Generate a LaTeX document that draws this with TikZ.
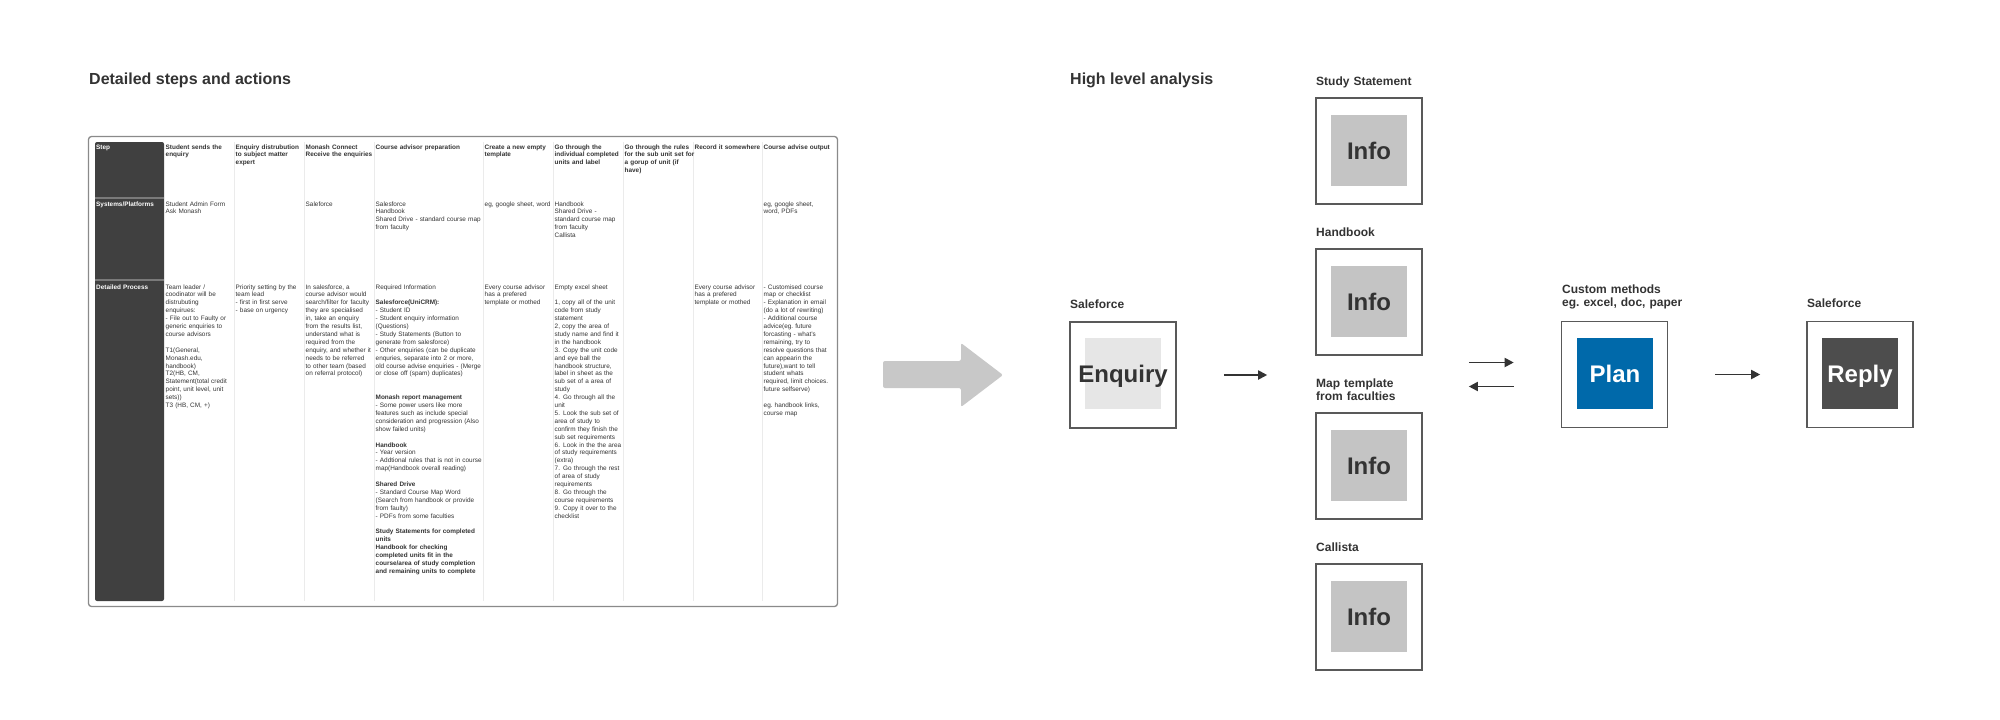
\documentclass[tikz,border=0pt]{standalone}
\usepackage{fontspec}
\setmainfont{Liberation Sans}
\usetikzlibrary{arrows.meta}
\definecolor{ink}{HTML}{333333}
\definecolor{boxline}{HTML}{595959}
\definecolor{infofill}{HTML}{C4C4C4}
\definecolor{enqfill}{HTML}{E6E6E6}
\definecolor{planfill}{HTML}{0069AA}
\definecolor{replyfill}{HTML}{4D4D4D}
\definecolor{sidefill}{HTML}{404040}
\definecolor{sidesep}{HTML}{7A7A7A}
\definecolor{colrule}{HTML}{EBEBEB}
\definecolor{tblframe}{HTML}{8A8A8A}
\definecolor{bigarrow}{HTML}{C8C8C8}

\begin{document}
\begin{tikzpicture}[x=1pt,y=-1pt,
	ttl/.style={anchor=base west,inner sep=0pt,text=ink,font=\fontsize{16}{19}\selectfont\bfseries},
	lbl/.style={anchor=base west,inner sep=0pt,text=ink,text width=160pt,align=left,font=\fontsize{12}{13.3}\selectfont\bfseries},
	cell/.style={anchor=base west,inner sep=0pt,text=ink,text width=110pt,align=left,font=\fontsize{6.4}{7.9}\selectfont},
	hcell/.style={cell,font=\fontsize{6.4}{7.9}\selectfont\bfseries},
	scell/.style={hcell,text=white},
	box/.style={draw=boxline,line width=1.6pt,minimum size=106pt,inner sep=0pt},
	card/.style={minimum width=76pt,minimum height=71pt,inner sep=0pt,text height=17pt,text depth=0pt,font=\fontsize{24}{24}\selectfont\bfseries},
	arr/.style={draw=ink,line width=1.8pt,-{Triangle[length=9pt,width=9pt]}}]
			\useasboundingbox (0,0) rectangle (2000,720);
			\node[ttl] (ttlSteps) at (89,84) {Detailed steps and actions};
			\node[ttl] (ttlHigh) at (1070,84) {High level analysis};

			\draw[tblframe,line width=1.3pt,rounded corners=3pt] (88.5,136.5) rectangle (837.5,606.5);
			\fill[sidefill,rounded corners=2pt] (95,142) rectangle (164,601);
			\draw[sidesep,line width=1.5pt] (95,198) -- (164,198) (95,280) -- (164,280);
			\draw[colrule,line width=0.8pt] (234,142) -- (234,601) (304,142) -- (304,601) (374,142) -- (374,601) (483,142) -- (483,601)
				(553,142) -- (553,601) (623,142) -- (623,601) (693,142) -- (693,601) (762,142) -- (762,601);

			\node[scell] (hd0) at (96,149) {Step};
			\node[scell] (sy0) at (96,206) {Systems/Platforms};
			\node[scell] (pr0) at (96,289) {Detailed Process};

			\node[hcell] (hd1) at (165.5,149) {Student sends the\\enquiry};
			\node[hcell] (hd2) at (235.5,149) {Enquiry distrubution\\to subject matter\\expert};
			\node[hcell] (hd3) at (305.5,149) {Monash Connect\\Receive the enquiries};
			\node[hcell] (hd4) at (375.5,149) {Course advisor preparation};
			\node[hcell] (hd5) at (484.5,149) {Create a new empty\\template};
			\node[hcell] (hd6) at (554.5,149) {Go through the\\individual completed\\units and label};
			\node[hcell] (hd7) at (624.5,149) {Go through the rules\\for the sub unit set for\\a gorup of unit (if\\have)};
			\node[hcell] (hd8) at (694.5,149) {Record it somewhere};
			\node[hcell] (hd9) at (763.5,149) {Course advise output};

			\node[cell] (sy1) at (165.5,206) {Student Admin Form\\Ask Monash};
			\node[cell] (sy3) at (305.5,206) {Saleforce};
			\node[cell] (sy4) at (375.5,206) {Salesforce\\Handbook\\Shared Drive - standard course map\\from faculty};
			\node[cell] (sy5) at (484.5,206) {eg, google sheet, word};
			\node[cell] (sy6) at (554.5,206) {Handbook\\Shared Drive -\\standard course map\\from faculty\\Callista};
			\node[cell] (sy9) at (763.5,206) {eg, google sheet,\\word, PDFs};

			\node[cell] (pr1) at (165.5,289) {Team leader /\\coodinator will be\\distrubuting\\enquirues:\\- File out to Faulty or\\generic enquiries to\\course advisors\\[7.9pt]T1(General,\\Monash.edu,\\handbook)\\T2(HB, CM,\\Statement(total credit\\point, unit level, unit\\sets))\\T3 (HB, CM, +)};
			\node[cell] (pr2) at (235.5,289) {Priority setting by the\\team lead\\- first in first serve\\- base on urgency};
			\node[cell] (pr3) at (305.5,289) {In salesforce, a\\course advisor would\\search/filter for faculty\\they are specialised\\in, take an enquiry\\from the results list,\\understand what is\\required from the\\enquiry, and whether it\\needs to be referred\\to other team (based\\on referral protocol)};
			\node[cell] (pr4) at (375.5,289) {Required Information\\[7.9pt]\textbf{Salesforce(UniCRM):}\\- Student ID\\- Student enquiry information\\(Questions)\\- Study Statements (Button to\\generate from salesforce)\\- Other enquiries (can be duplicate\\enquries, separate into 2 or more,\\old course advise enquiries - (Merge\\or close off (spam) duplicates)\\[15.8pt]\textbf{Monash report management}\\- Some power users like more\\features such as include special\\consideration and progression (Also\\show failed units)\\[7.9pt]\textbf{Handbook}\\- Year version\\- Addtional rules that is not in course\\map(Handbook overall reading)\\[7.9pt]\textbf{Shared Drive}\\- Standard Course Map Word\\(Search from handbook or provide\\from faulty)\\- PDFs from some faculties\\[7.9pt]\textbf{Study Statements for completed}\\\textbf{units}\\\textbf{Handbook for checking}\\\textbf{completed units fit in the}\\\textbf{course/area of study completion}\\\textbf{and remaining units to complete}};
			\node[cell] (pr5) at (484.5,289) {Every course advisor\\has a prefered\\template or mothed};
			\node[cell] (pr6) at (554.5,289) {Empty excel sheet\\[7.9pt]1, copy all of the unit\\code from study\\statement\\2, copy the area of\\study name and find it\\in the handbook\\3. Copy the unit code\\and eye ball the\\handbook structure,\\label in sheet as the\\sub set of a area of\\study\\4. Go through all the\\unit\\5. Look the sub set of\\area of study to\\confirm they finish the\\sub set requirements\\6. Look in the the area\\of study requirements\\(extra)\\7. Go through the rest\\of area of study\\requirements\\8. Go through the\\course requirements\\9. Copy it over to the\\checklist};
			\node[cell] (pr8) at (694.5,289) {Every course advisor\\has a prefered\\template or mothed};
			\node[cell] (pr9) at (763.5,289) {- Customised course\\map or checklist\\- Explanation in email\\(do a lot of rewriting)\\- Additional course\\advice(eg.\ future\\forcasting - what's\\remaining, try to\\resolve questions that\\can appearin the\\future),want to tell\\student whats\\required, limit choices.\\future selfserve)\\[7.9pt]eg.\ handbook links,\\course map};

			\fill[bigarrow,rounded corners=2pt] (883,361) -- (961,361) -- (961,343) -- (1003,375) -- (961,407) -- (961,388) -- (883,388) -- cycle;

			\node[lbl] (enqLbl) at (1070,308) {Saleforce};
			\node[box] (enqBox) at (1123,375) {};
			\node[card,fill=enqfill,text=ink] (enqCard) at (1123,373.5) {\makebox[0pt]{Enquiry}};

			\node[lbl] (ssLbl) at (1316,85) {Study Statement};
			\node[box] (ssBox) at (1369,151) {};
			\node[card,fill=infofill,text=ink] (ssCard) at (1369,150.5) {Info};
			\node[lbl] (hbLbl) at (1316,236) {Handbook};
			\node[box] (hbBox) at (1369,302) {};
			\node[card,fill=infofill,text=ink] (hbCard) at (1369,301.5) {Info};
			\node[lbl] (mapLbl) at (1316,387) {Map template\\from faculties};
			\node[box] (mapBox) at (1369,466) {};
			\node[card,fill=infofill,text=ink] (mapCard) at (1369,465.5) {Info};
			\node[lbl] (caLbl) at (1316,551) {Callista};
			\node[box] (caBox) at (1369,617) {};
			\node[card,fill=infofill,text=ink] (caCard) at (1369,616.5) {Info};

			\node[lbl] (planLbl) at (1562,293) {Custom methods\\eg.\ excel, doc, paper};
			\node[box] (planBox) at (1614.5,374.5) {};
			\node[card,fill=planfill,text=white] (planCard) at (1615,373.5) {Plan};
			\node[lbl] (replyLbl) at (1807,307) {Saleforce};
			\node[box] (replyBox) at (1860,374.5) {};
			\node[card,fill=replyfill,text=white] (replyCard) at (1860,373.5) {Reply};

			\coordinate (toPlan) at ([yshift=12pt]planBox.west);
			\coordinate (fromPlan) at ([yshift=-12pt]planBox.west);
			\draw[arr,shorten <=47pt,shorten >=48pt] (enqBox.east) -- (enqBox.east -| ssBox.west);
			\draw[arr,shorten <=46pt,shorten >=47pt] (toPlan -| ssBox.east) -- (toPlan);
			\draw[arr,shorten <=47pt,shorten >=46pt] (fromPlan) -- (fromPlan -| ssBox.east);
			\draw[arr,shorten <=47pt,shorten >=46pt] (planBox.east) -- (replyBox.west);
		\end{tikzpicture}
\end{document}
